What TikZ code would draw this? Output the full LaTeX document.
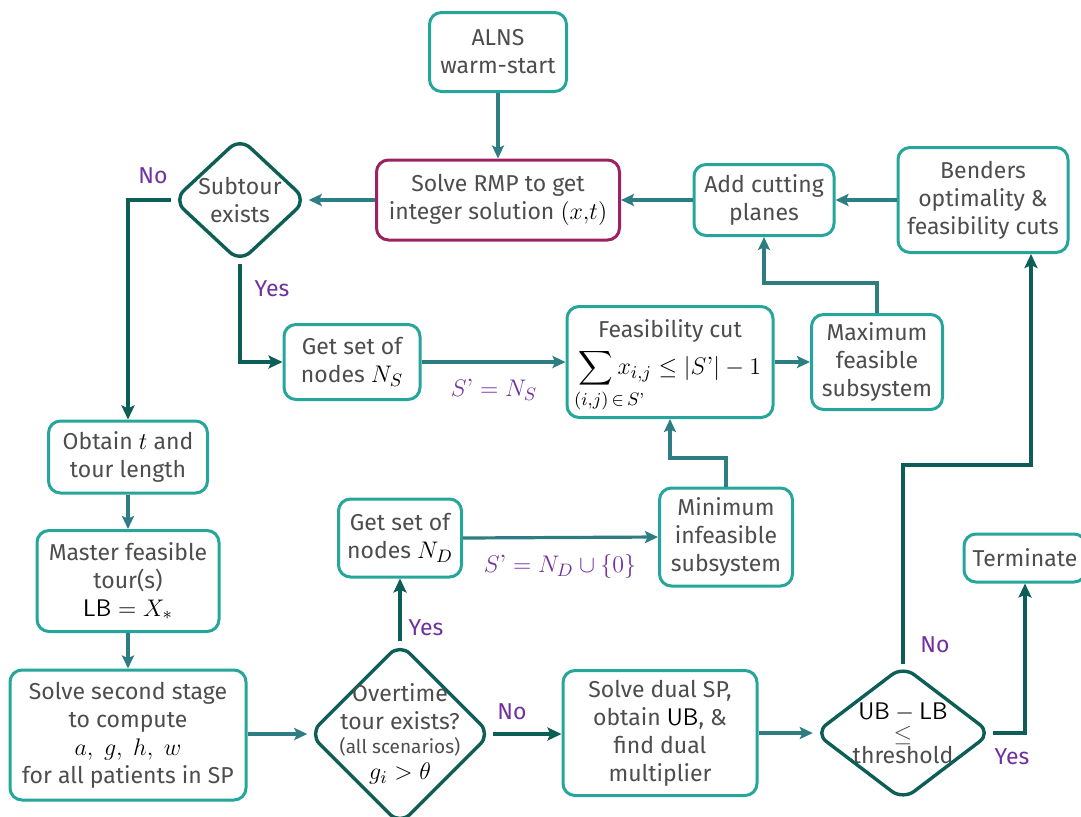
\documentclass[tikz,border=0pt]{standalone}
\usepackage[no-math]{fontspec}
\setmainfont{Fira Sans}
\newfontfamily\lmfont{Latin Modern Roman}
\usepackage{amsmath,mathtools}
\usetikzlibrary{shapes.geometric,arrows.meta}
\definecolor{boxc}{HTML}{26A69A}
\definecolor{arrc}{HTML}{2E7D82}
\definecolor{dk}{HTML}{0D5E56}
\definecolor{mag}{HTML}{9C2262}
\definecolor{txt}{HTML}{4D4D4D}
\definecolor{lab}{HTML}{7030A0}
\newcommand\Sp{S\text{\lmfont ’}}
\newcommand\mm[1]{\textcolor{black}{\fontsize{12.5}{14}\selectfont$#1$}}
\begin{document}
\begin{tikzpicture}[x=0.5pt,y=-0.5pt,
  font=\fontsize{11.5}{14}\selectfont,
  box/.style={draw=boxc, line width=1.5pt, rounded corners=6pt, fill=white, align=center, text=txt, inner sep=1pt},
  dia/.style={diamond, draw=dk, line width=1.7pt, rounded corners=7pt, inner sep=0pt, fill=white},
  thinarr/.style={draw=arrc, line width=1.6pt, -{Stealth[length=6.5pt,width=6pt,inset=1.3pt]}},
  thickarr/.style={draw=dk, line width=2.4pt, -{Stealth[length=7pt,width=6.5pt,inset=1.4pt]}},
  lbl/.style={text=lab}]
\useasboundingbox (0,0) rectangle (1081,816);

\node[box, minimum width=68.5pt, minimum height=39.5pt] (alns) at (498,52) {ALNS\\warm-start};
\node[box, draw=mag, minimum width=121.5pt, minimum height=40pt] (rmp) at (498,200) {Solve RMP to get\\integer solution \mm{(x{,}t)}};
\node[dia, minimum width=67pt, minimum height=62.5pt, label={[align=center,text=txt]center:Subtour\\exists}] (sub) at (240,200) {};
\node[box, minimum width=70pt, minimum height=35.5pt] (add) at (764,200) {Add cutting\\planes};
\node[box, minimum width=85pt, minimum height=52.5pt] (bend) at (983,200) {Benders\\optimality \&\\feasibility cuts};
\node[box, minimum width=68pt, minimum height=37.5pt] (ns) at (352,362) {Get set of\\nodes \mm{N_S}};
\node[box, minimum width=103pt, minimum height=55.5pt] (fcut) at (670,362) {\rule{0pt}{13pt}Feasibility cut\\[2.5pt]\mm{\displaystyle\sum_{\mathclap{\hspace{13pt}(i{,}j)\,\in\,\Sp}}x_{i{,}j}\le|\Sp|-1}};
\node[box, minimum width=65.5pt, minimum height=47.5pt] (maxf) at (877,362) {Maximum\\feasible\\subsystem};
\node[box, minimum width=79.5pt, minimum height=36pt] (obt) at (128,457) {Obtain \mm{t} and\\tour length};
\node[box, minimum width=91pt, minimum height=50.5pt] (mast) at (128,581) {Master feasible\\tour(s)\\\mm{\mathsf{LB}=X_*}};
\node[box, minimum width=118pt, minimum height=65pt] (sss) at (128,735) {Solve second stage\\to compute\\\mm{a,\ g,\ h,\ w}\\for all patients in SP};
\node[box, minimum width=61.5pt, minimum height=39pt] (nd) at (400,538) {Get set of\\nodes \mm{N_D}};
\node[box, minimum width=66.5pt, minimum height=49pt] (minf) at (726,537) {Minimum\\infeasible\\subsystem};
\node[box, minimum width=97pt, minimum height=62.5pt] (dual) at (660,733) {Solve dual SP,\\obtain \mm{\mathsf{UB}}, \&\\find dual\\multiplier};
\node[box, minimum width=61pt, minimum height=24pt] (term) at (1025,558) {Terminate};
\node[dia, minimum width=91pt, minimum height=91pt, label={[align=center,text=txt]center:Overtime\\tour exists?\\[-2pt]{\fontsize{9.5}{11}\selectfont(all scenarios)}\\[-1pt]\mm{g_i>\theta}}] (over) at (400,734) {};
\node[dia, minimum width=88.5pt, minimum height=67.5pt, label={[align=center,text=txt]center:\mm{\mathsf{UB}-\mathsf{LB}}\\[-3pt]$\le$\\[-3pt]threshold}] (thr) at (903,733) {};

\coordinate (k1) at (877,283);
\coordinate (k2) at (726,458);
\coordinate (k3) at (903,465);
\coordinate (k4) at (1031,465);

\draw[thinarr] (alns) -- (rmp);
\draw[thinarr] (rmp.west) -- (sub.east);
\draw[thinarr] (add.west) -- (rmp.east);
\draw[thinarr] (bend.west) -- (add.east);
\draw[thickarr] (sub.west) -| (obt.north);
\draw[thickarr] (sub.south) |- (ns.west);
\draw[thinarr] (ns.east) -- (fcut.west);
\draw[thinarr] (fcut.east) -- (maxf.west);
\draw[thinarr] (maxf.north) -- (k1) -| (add.south);
\draw[thinarr] (minf.north) -- (k2) -| (fcut.south);
\draw[thinarr] (nd.east) -- (minf.west);
\draw[thinarr] (obt) -- (mast);
\draw[thinarr] (mast) -- (sss);
\draw[thinarr] (sss.east |- over.west) -- (over.west);
\draw[thickarr] (over.north) -- (nd.south);
\draw[thickarr] (over.east) -- (dual.west |- over.east);
\draw[thinarr] (dual.east) -- (thr.west);
\draw[thickarr] (thr.north) -- (k3) -- (k4) -- (k4 |- bend.south);
\draw[thickarr] (thr.east) -| (term.south);

\node[lbl] (l1) at (153,176) {No};
\node[lbl] (l2) at (272,289) {Yes};
\node[lbl, font=\fontsize{12.5}{14}\selectfont] (l3) at (494,390) {$\Sp=N_S$};
\node[lbl, font=\fontsize{12.5}{14}\selectfont] (l4) at (560,566) {$\Sp=N_D\cup\{0\}$};
\node[lbl] (l5) at (426,628) {Yes};
\node[lbl] (l6) at (512,712) {No};
\node[lbl] (l7) at (935,645) {No};
\node[lbl] (l8) at (1012,757) {Yes};
\end{tikzpicture}
\end{document}
